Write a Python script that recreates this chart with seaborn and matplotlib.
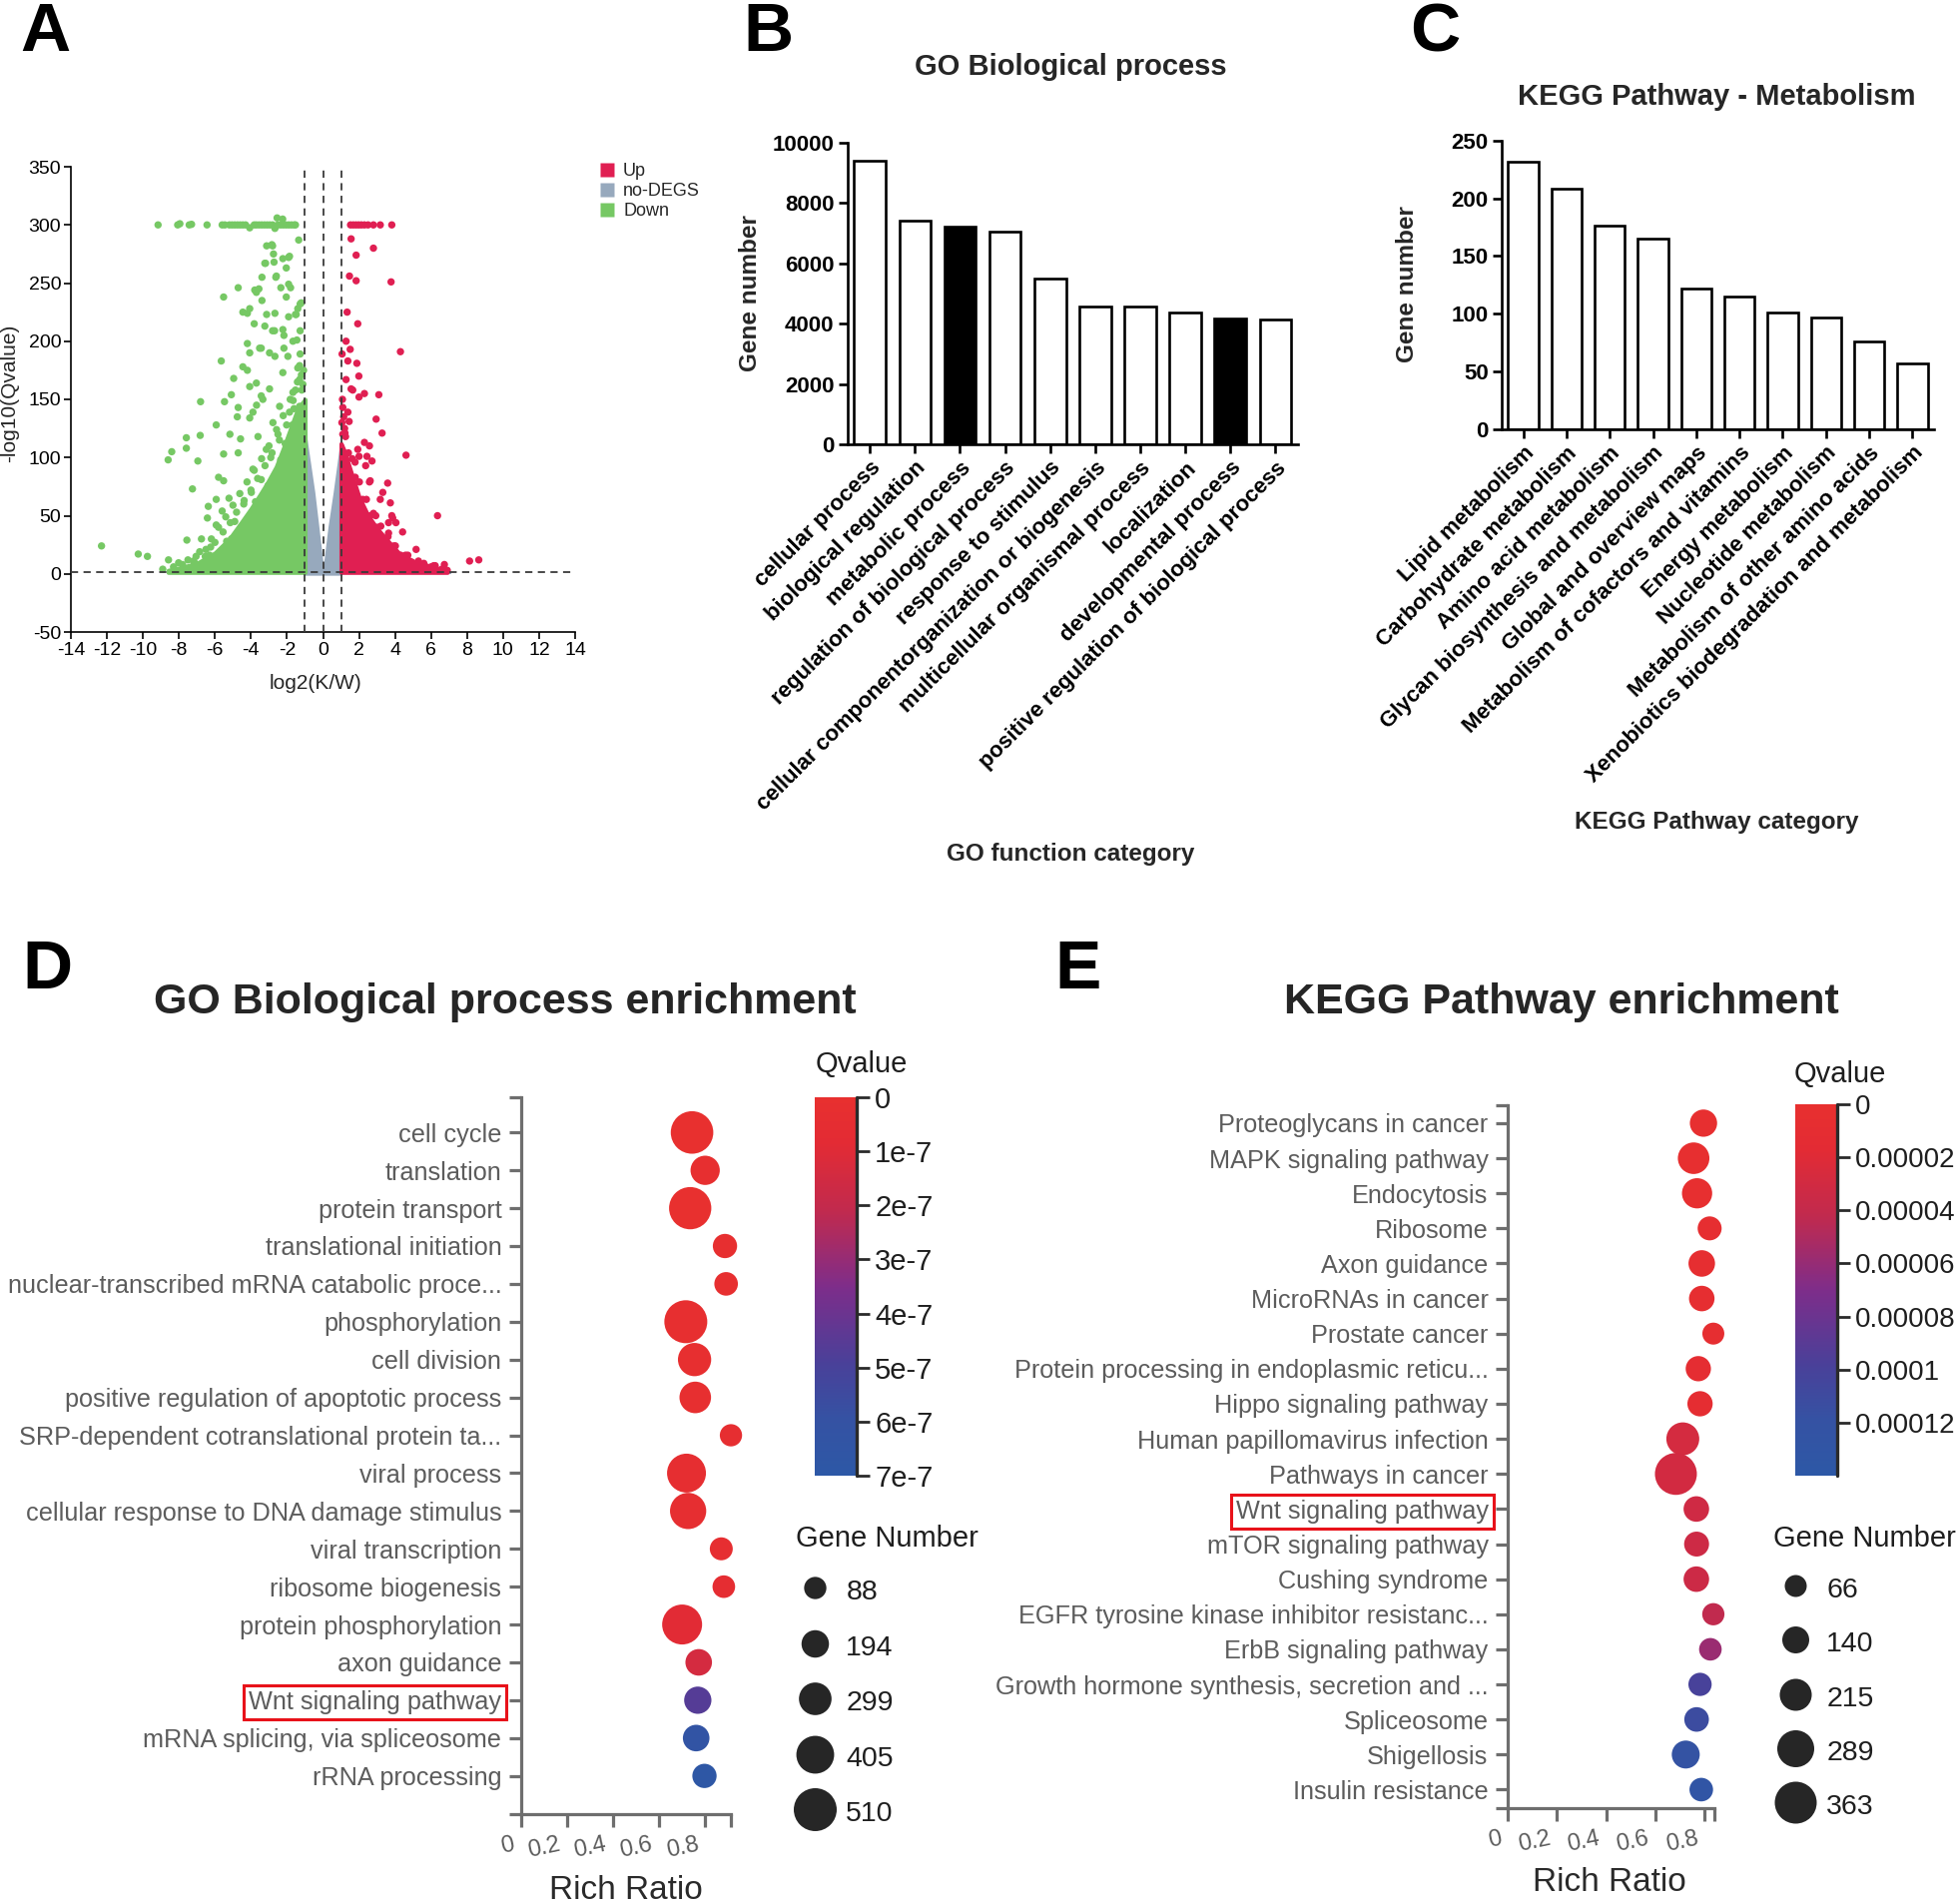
import numpy as np
import pandas as pd
import matplotlib
matplotlib.use("Agg")
import matplotlib.pyplot as plt
import seaborn as sns
from matplotlib.colors import LinearSegmentedColormap, Normalize
from matplotlib.cm import ScalarMappable
from matplotlib.lines import Line2D
import matplotlib.transforms as mtransforms

# ======================= DATA =======================
# ---- Panel A: volcano ----
fc_cut = 1.0
q_cut = 0.05
volcano_groups = ["Up", "no-DEGS", "Down"]
volcano_colors = ["#e01f52", "#97a9bd", "#76c864"]

down_points = [
    (-9.16, 300), (-8.07, 300), (-7.95, 301), (-7.43, 300), (-7.30, 300.5), (-6.44, 300),
    (-5.60, 300), (-5.45, 300), (-5.20, 300), (-5.05, 300), (-4.90, 300), (-4.75, 300),
    (-4.60, 300), (-4.45, 300), (-4.30, 300), (-4.07, 297.5), (-3.82, 300), (-3.70, 300),
    (-3.55, 300), (-3.40, 300), (-3.25, 300), (-3.10, 300), (-2.95, 300), (-2.80, 300),
    (-2.67, 297), (-2.55, 306), (-2.50, 300), (-2.35, 300), (-2.24, 305), (-2.20, 300),
    (-2.05, 300), (-1.90, 300), (-1.75, 300), (-1.60, 300), (-1.53, 300),
    (-1.35, 287), (-3.13, 282), (-2.80, 282), (-2.75, 275), (-2.72, 268), (-3.23, 267),
    (-1.91, 272), (-2.62, 255), (-3.39, 255), (-2.04, 263), (-5.52, 238), (-4.71, 246),
    (-3.79, 244), (-3.56, 245), (-1.91, 249), (-2.34, 246), (-2.04, 238), (-4.07, 228),
    (-4.20, 224), (-4.45, 225), (-3.39, 235), (-2.67, 224), (-3.13, 223), (-1.27, 232),
    (-1.91, 221), (-1.53, 223), (-3.82, 215), (-3.23, 213), (-2.80, 209), (-2.17, 205),
    (-4.20, 198), (-4.07, 190), (-3.43, 194), (-2.67, 187), (-2.17, 194), (-5.65, 183),
    (-4.45, 178), (-4.20, 175), (-4.96, 168), (-4.07, 161), (-5.09, 154), (-6.80, 148),
    (-5.47, 148), (-4.71, 143), (-3.69, 145), (-3.43, 153), (-4.76, 135), (-4.07, 134),
    (-5.93, 128), (-5.17, 120), (-7.59, 117), (-6.82, 119), (-4.58, 116), (-8.40, 105),
    (-7.59, 108), (-8.60, 98), (-6.95, 97), (-5.52, 103), (-4.71, 104), (-5.80, 83),
    (-7.25, 73), (-5.52, 80), (-6.37, 58), (-5.22, 65), (-5.93, 64), (-5.60, 54),
    (-6.42, 48), (-6.75, 30), (-7.56, 29), (-5.93, 42), (-12.30, 24), (-10.26, 17),
    (-9.75, 15), (-8.58, 12), (-8.02, 9.5), (-7.05, 15), (-6.24, 23), (-6.54, 15),
    (-5.09, 30), (-2.84, 283), (-2.23, 271), (-1.86, 273), (-3.19, 267), (-2.59, 256),
    (-1.80, 246), (-3.70, 242), (-1.21, 233), (-1.49, 223), (-2.23, 210), (-2.69, 209),
    (-1.67, 200), (-3.52, 194), (-1.95, 187), (-2.97, 190), (-1.30, 179), (-2.23, 173),
    (-3.70, 164), (-1.30, 167), (-2.97, 159), (-1.67, 156), (-3.34, 150), (-2.41, 144),
    (-1.30, 144), (-3.89, 139), (-2.78, 130), (-1.86, 139), (-3.61, 118), (-3.15, 107),
    (-3.89, 90), (-3.43, 81), (-3.98, 70), (-3.24, 58), (-1.40, 228), (-1.27, 209),
    (-1.45, 201), (-1.27, 189), (-1.40, 177), (-1.20, 171), (-1.53, 158), (-1.66, 149),
    (-2.50, 120), (-2.10, 112), (-2.90, 100), (-4.40, 60), (-4.90, 45), (-7.80, 8),
    # ragged edge of the dense cloud
    (-7.50, 12), (-7.20, 11), (-6.85, 19), (-6.50, 21), (-6.20, 30), (-6.00, 27),
    (-5.80, 40), (-5.55, 36), (-5.40, 49), (-5.15, 44), (-5.00, 59), (-4.80, 53),
    (-4.62, 69), (-4.38, 63), (-4.22, 79), (-4.00, 72), (-3.82, 89), (-3.63, 82),
    (-3.41, 99), (-3.22, 93), (-3.00, 110), (-2.83, 104), (-2.58, 124), (-2.42, 115),
    (-2.21, 136), (-2.02, 128), (-1.82, 150), (-1.61, 142), (-1.42, 165), (-1.18, 158),
    (-1.08, 175), (-1.12, 163), (-1.70, 128), (-2.35, 98), (-3.05, 76), (-3.75, 62),
    (-4.55, 40), (-5.35, 28), (-6.30, 16), (-7.10, 9), (-8.30, 6), (-8.90, 4),
]
up_points = [
    (1.53, 300), (1.68, 300), (1.83, 300), (1.98, 300), (2.13, 300), (2.30, 300),
    (2.50, 300), (2.80, 300), (3.18, 300), (3.82, 300),
    (1.56, 288), (2.80, 280), (1.84, 274), (1.47, 256), (1.84, 252), (3.78, 251),
    (1.34, 225), (1.93, 215), (1.28, 200), (1.51, 193), (4.30, 191), (1.06, 189),
    (1.38, 183), (1.88, 181), (1.28, 167), (1.99, 170), (1.56, 159), (2.30, 155),
    (3.10, 154), (2.00, 152), (1.10, 143), (1.38, 139), (2.95, 133), (3.28, 121),
    (2.30, 113), (2.58, 110), (4.61, 102), (1.93, 107), (2.00, 101), (2.44, 101),
    (2.72, 97), (3.59, 78), (2.58, 79), (3.32, 70), (3.87, 48), (4.05, 44),
    (4.42, 36), (5.17, 21), (4.71, 16), (3.18, 64), (3.74, 61), (3.82, 50),
    (2.93, 50), (6.36, 50), (3.64, 44), (3.64, 35), (3.94, 24), (6.23, 7),
    (6.74, 8), (8.14, 11), (8.65, 12), (3.38, 22), (2.42, 24), (1.05, 130),
    (1.10, 120), (1.15, 135), (1.20, 125), (1.08, 150), (1.25, 118), (1.45, 131),
    (1.65, 158), (1.78, 96), (2.37, 93), (2.62, 80), (5.60, 9), (6.00, 6),
    # ragged edge of the dense cloud
    (1.22, 121), (1.41, 104), (1.62, 99), (1.79, 83), (2.02, 79), (2.21, 64),
    (2.41, 64), (2.63, 50), (2.80, 52), (3.02, 40), (3.21, 41), (3.43, 30),
    (3.61, 32), (3.82, 23), (4.02, 24), (4.31, 16), (4.58, 16), (4.92, 10),
    (5.30, 11), (5.72, 6), (6.15, 7), (6.60, 4), (6.90, 3), (1.12, 104), (1.70, 75),
    (2.50, 44), (3.30, 27), (4.40, 12),
]
# dense cores of each group (upper envelope)
down_env_x = [-8.6, -8.0, -7.0, -6.0, -5.2, -4.5, -4.0, -3.5, -3.1, -2.6, -2.2, -1.8, -1.4, -1.0]
down_env_top = [3, 5, 9, 18, 30, 45, 56, 68, 78, 92, 108, 125, 142, 150]
up_env_x = [1.0, 1.2, 1.5, 2.0, 2.5, 3.0, 3.5, 4.2, 5.0, 6.0, 6.9]
up_env_top = [112, 105, 90, 66, 50, 39, 30, 18, 11, 6, 3]
nodeg_env_x = [-1.0, -0.53, -0.31, -0.10, 0.0, 0.14, 0.36, 0.64, 1.0]
nodeg_env_top = [120, 70, 41, 13, 1.5, 13, 41, 70, 111]
nodeg_band_x = [-6.6, 7.1]

# ---- Panel B: GO biological process ----
go_cats = ["cellular process", "biological regulation", "metabolic process",
           "regulation of biological process", "response to stimulus",
           "cellular componentorganization or biogenesis", "multicellular organismal process",
           "localization", "developmental process", "positive regulation of biological process"]
go_counts = [9400, 7430, 7235, 7040, 5500, 4570, 4570, 4360, 4165, 4130]
go_highlight = [False, False, True, False, False, False, False, False, True, False]

# ---- Panel C: KEGG metabolism ----
kegg_cats = ["Lipid metabolism", "Carbohydrate metabolism", "Amino acid metabolism",
             "Glycan biosynthesis and metabolism", "Global and overview maps",
             "Metabolism of cofactors and vitamins", "Energy metabolism",
             "Nucleotide metabolism", "Metabolism of other amino acids",
             "Xenobiotics biodegradation and metabolism"]
kegg_counts = [232, 208, 176, 165, 122, 115, 101, 97, 76, 57]

# ---- Panel D: GO enrichment ----
goe_terms = ["cell cycle", "translation", "protein transport", "translational initiation",
             "nuclear-transcribed mRNA catabolic proce...", "phosphorylation", "cell division",
             "positive regulation of apoptotic process", "SRP-dependent cotranslational protein ta...",
             "viral process", "cellular response to DNA damage stimulus", "viral transcription",
             "ribosome biogenesis", "protein phosphorylation", "axon guidance",
             "Wnt signaling pathway", "mRNA splicing, via spliceosome", "rRNA processing"]
goe_ratio = [0.743, 0.800, 0.735, 0.886, 0.891, 0.716, 0.754, 0.757, 0.912, 0.719,
             0.726, 0.870, 0.881, 0.700, 0.772, 0.768, 0.761, 0.797]
goe_genes = [502, 231, 496, 129, 115, 510, 312, 278, 88, 428,
             373, 102, 95, 449, 176, 190, 176, 129]
goe_q = [0.10e-7, 0.15e-7, 0.10e-7, 0.20e-7, 0.20e-7, 0.15e-7, 0.20e-7, 0.25e-7, 0.30e-7,
         0.30e-7, 0.35e-7, 0.40e-7, 0.45e-7, 0.90e-7, 1.40e-7, 4.60e-7, 6.30e-7, 6.80e-7]
goe_q_ticks = [0, 1e-7, 2e-7, 3e-7, 4e-7, 5e-7, 6e-7, 7e-7]
goe_q_ticklabels = ["0", "1e-7", "2e-7", "3e-7", "4e-7", "5e-7", "6e-7", "7e-7"]
goe_size_legend = [88, 194, 299, 405, 510]

# ---- Panel E: KEGG enrichment ----
ke_terms = ["Proteoglycans in cancer", "MAPK signaling pathway", "Endocytosis", "Ribosome",
            "Axon guidance", "MicroRNAs in cancer", "Prostate cancer",
            "Protein processing in endoplasmic reticu...", "Hippo signaling pathway",
            "Human papillomavirus infection", "Pathways in cancer", "Wnt signaling pathway",
            "mTOR signaling pathway", "Cushing syndrome",
            "EGFR tyrosine kinase inhibitor resistanc...", "ErbB signaling pathway",
            "Growth hormone synthesis, secretion and ...", "Spliceosome", "Shigellosis",
            "Insulin resistance"]
ke_ratio = [0.795, 0.755, 0.769, 0.820, 0.788, 0.788, 0.835, 0.774, 0.781, 0.711,
            0.683, 0.766, 0.767, 0.766, 0.835, 0.823, 0.781, 0.767, 0.723, 0.786]
ke_genes = [145, 209, 189, 96, 134, 119, 66, 115, 115, 229,
            363, 119, 110, 119, 70, 75, 85, 105, 155, 90]
ke_q = [3e-6, 5e-6, 5e-6, 6e-6, 6e-6, 7e-6, 8e-6, 1.0e-5, 1.1e-5, 2.8e-5,
        3.0e-5, 3.2e-5, 3.3e-5, 3.4e-5, 4.2e-5, 5.8e-5, 1.0e-4, 1.12e-4, 1.22e-4, 1.30e-4]
ke_q_ticks = [0, 2e-5, 4e-5, 6e-5, 8e-5, 1e-4, 1.2e-4]
ke_q_ticklabels = ["0", "0.00002", "0.00004", "0.00006", "0.00008", "0.0001", "0.00012"]
ke_size_legend = [66, 140, 215, 289, 363]
highlight_term = "Wnt signaling pathway"

# ======================= STYLE / LAYOUT =======================
sns.set_theme(style="white")
plt.rcParams["font.family"] = ["Liberation Sans", "DejaVu Sans"]
plt.rcParams["axes.unicode_minus"] = False

W, H, DPI = 1960, 1907, 100
fig = plt.figure(figsize=(W / DPI, H / DPI), dpi=DPI)
fig.patch.set_facecolor("white")


def fx(x):
    return x / W


def fy(y):
    return 1 - y / H


def ax_px(left, top, right, bottom):
    return fig.add_axes([left / W, 1 - bottom / H, (right - left) / W, (bottom - top) / H])


def ftext(x, y, s, **kw):
    return fig.text(fx(x), fy(y), s, **kw)


# panel letters
for letter, (lx, ly) in zip("ABCDE", [(20, 51), (744, 51), (1412, 51), (22, 990), (1056, 990)]):
    ftext(lx, ly, letter, fontsize=50, fontweight="bold", ha="left", va="baseline", color="black")

# ======================= PANEL A =======================
axA = ax_px(71, 167, 576, 633)
c_up, c_no, c_down = volcano_colors
axA.fill_between(nodeg_band_x, -0.3, 1.6, color=c_no, lw=0, zorder=1)
axA.fill_between(nodeg_env_x, 0, nodeg_env_top, color=c_no, lw=2, edgecolor=c_no, zorder=1)
axA.fill_between(down_env_x, -np.log10(q_cut), down_env_top, color=c_down, lw=3, edgecolor=c_down, zorder=2)
axA.fill_between(up_env_x, -np.log10(q_cut), up_env_top, color=c_up, lw=3, edgecolor=c_up, zorder=2)

dv = pd.DataFrame(down_points, columns=["lfc", "mlq"]).assign(group="Down")
uv = pd.DataFrame(up_points, columns=["lfc", "mlq"]).assign(group="Up")
dfv = pd.concat([dv, uv], ignore_index=True)
sns.scatterplot(data=dfv, x="lfc", y="mlq", hue="group", palette={"Up": c_up, "Down": c_down},
                s=28, linewidth=0, legend=False, ax=axA, zorder=3)
for v in (-fc_cut, 0, fc_cut):
    axA.axvline(v, color="#3a3a3a", lw=1.3, ls=(0, (4, 3)), zorder=4)
axA.axhline(-np.log10(q_cut), color="#3a3a3a", lw=1.3, ls=(0, (4, 3)), zorder=4)
axA.set_xlim(-14, 14)
axA.set_ylim(-50, 350)
axA.set_xticks(np.arange(-14, 15, 2))
axA.set_yticks(np.arange(-50, 351, 50))
axA.set_xlabel("")
axA.set_ylabel("")
sns.despine(ax=axA)
for s in ("left", "bottom"):
    axA.spines[s].set_color("black")
    axA.spines[s].set_linewidth(1.2)
axA.tick_params(axis="both", direction="out", length=5, width=1.2, color="black",
                labelsize=14, labelcolor="black", pad=2, left=True, bottom=True)
ftext(316, 684, "log2(K/W)", fontsize=15, ha="center", va="center")
ftext(10, 394, "-log10(Qvalue)", fontsize=15, ha="center", va="center", rotation=90)
vh = [Line2D([], [], ls="", marker="s", markersize=9.4, markerfacecolor=c, markeredgecolor="none")
      for c in volcano_colors]
axA.legend(vh, volcano_groups, loc="upper left", bbox_to_anchor=(fx(600.8), fy(163)),
           bbox_transform=fig.transFigure, frameon=False, fontsize=13, handlelength=0.8,
           handletextpad=0.49, labelspacing=0.18, borderpad=0, borderaxespad=0)

# ======================= PANELS B, C =======================
def bar_panel(box, cats, counts, fills, ymax, ystep, title, title_xy, xlabel, xlabel_xy, ylabel_xy):
    ax = ax_px(*box)
    sns.barplot(x=cats, y=counts, hue=cats, palette=fills, legend=False, edgecolor="black",
                linewidth=1.9, width=0.7, saturation=1, ax=ax)
    ax.set_xlim(-0.5, len(cats) - 0.5)
    ax.set_ylim(0, ymax)
    ax.set_yticks(np.arange(0, ymax + 1, ystep))
    ax.set_xlabel("")
    ax.set_ylabel("")
    sns.despine(ax=ax)
    for s in ("left", "bottom"):
        ax.spines[s].set_color("black")
        ax.spines[s].set_linewidth(1.9)
    ax.tick_params(axis="both", direction="out", length=6.5, width=1.9, color="black",
                   labelsize=16, labelcolor="black", left=True, bottom=True, pad=3)
    ax.set_xticks(range(len(cats)))
    ax.set_xticklabels(cats, rotation=45, ha="right", rotation_mode="anchor", fontweight="bold")
    for t in ax.get_yticklabels():
        t.set_fontweight("bold")
    ftext(*title_xy, title, fontsize=21, fontweight="bold", ha="center", va="baseline")
    ftext(*xlabel_xy, xlabel, fontsize=17.5, fontweight="bold", ha="center", va="baseline")
    ftext(*ylabel_xy, "Gene number", fontsize=17.5, fontweight="bold", ha="center", va="center",
          rotation=90)
    return ax


go_fill = ["black" if h else "white" for h in go_highlight]
bar_panel((848.6, 143, 1300, 445), go_cats, go_counts, go_fill, 10000, 2000,
          "GO Biological process", (1072, 75), "GO function category", (1072, 862), (751.7, 294))
bar_panel((1504, 140.7, 1937, 430), kegg_cats, kegg_counts, ["white"] * len(kegg_cats), 250, 50,
          "KEGG Pathway - Metabolism", (1719, 105), "KEGG Pathway category", (1719, 830), (1410, 285))

# ======================= PANELS D, E =======================
qcmap = LinearSegmentedColormap.from_list(
    "qv", [(0.0, "#e8302f"), (0.12, "#e32b34"), (0.30, "#c12a4e"), (0.50, "#7e2d8a"),
           (0.70, "#4a4099"), (0.85, "#3552a3"), (1.0, "#2d58a6")])
AX_GREY = "#6e6e6e"
LBL_GREY = "#5c5c5c"


def diam_px(n, nmin, nmax, dmin, dmax):
    return dmin + (np.asarray(n, dtype=float) - nmin) / (nmax - nmin) * (dmax - dmin)


def enrich_panel(box, terms, ratio, genes, q, xmax, ylim, qmax, qticks, qticklabels, cb_fs,
                 size_legend, drange, cbox, title, title_xy, qtitle_xy, gtitle_xy,
                 leg_xy, leg_spacing, rich_xy):
    ax = ax_px(*box)
    df = pd.DataFrame({"term": terms, "ratio": ratio, "genes": genes, "q": q})
    df["pos"] = np.arange(len(df))
    nmin, nmax = min(size_legend), max(size_legend)
    df["area"] = (diam_px(df["genes"], nmin, nmax, *drange) * 72 / DPI) ** 2
    norm = Normalize(0, qmax)
    sns.scatterplot(data=df, x="ratio", y="pos", hue="q", palette=qcmap, hue_norm=norm,
                    s=df["area"].values, linewidth=0, legend=False, ax=ax, zorder=3,
                    clip_on=False)
    ax.set_xlim(0, xmax)
    ax.set_ylim(*ylim)
    ax.set_xlabel("")
    ax.set_ylabel("")
    ax.set_yticks(df["pos"])
    ax.set_yticklabels(df["term"])
    ax.set_yticks(list(ylim), minor=True)
    ax.set_xticks([0, 0.2, 0.4, 0.6, 0.8])
    ax.set_xticklabels(["0", "0.2", "0.4", "0.6", "0.8"])
    ax.set_xticks([xmax], minor=True)
    sns.despine(ax=ax)
    for s in ("left", "bottom"):
        ax.spines[s].set_color(AX_GREY)
        ax.spines[s].set_linewidth(2.3)
    ax.tick_params(axis="both", which="both", direction="out", length=9, width=2.3,
                   color=AX_GREY, left=True, bottom=True)
    ax.tick_params(axis="y", which="major", labelsize=18.2, labelcolor=LBL_GREY, pad=5)
    ax.tick_params(axis="x", which="major", labelsize=17, labelcolor=LBL_GREY, pad=5)
    off = mtransforms.ScaledTranslation(-9 / DPI, 0, fig.dpi_scale_trans)
    for t in ax.get_xticklabels():
        t.set_rotation(12)
        t.set_ha("right")
        t.set_va("top")
        t.set_rotation_mode("anchor")
        t.set_transform(t.get_transform() + off)
    hl = list(terms).index(highlight_term)
    ax.get_yticklabels()[hl].set_bbox(dict(boxstyle="square,pad=0.2", facecolor="none",
                                           edgecolor="#e8121a", linewidth=2.2))
    # colorbar
    cax = ax_px(*cbox)
    cb = fig.colorbar(ScalarMappable(norm=norm, cmap=qcmap), cax=cax)
    cb.ax.invert_yaxis()
    cb.outline.set_visible(False)
    cb.set_ticks(qticks)
    cb.set_ticklabels(qticklabels)
    cb.ax.tick_params(length=9, width=2, color="#2a2a2a", labelsize=cb_fs, labelcolor="#1e1e1e", pad=4)
    cb.ax.axvline(1.0, color="#2a2a2a", lw=2.4, clip_on=False)
    # titles
    ftext(*title_xy, title, fontsize=31, fontweight="bold", ha="center", va="baseline")
    ftext(*qtitle_xy, "Qvalue", fontsize=21, ha="center", va="center", color="#1e1e1e")
    ftext(*gtitle_xy, "Gene Number", fontsize=21, ha="center", va="center", color="#1e1e1e")
    ftext(*rich_xy, "Rich Ratio", fontsize=24, ha="center", va="center", color="#2a2a2a")
    # size legend
    ds = diam_px(size_legend, nmin, nmax, *drange)
    hs = [Line2D([], [], ls="", marker="o", markersize=d * 72 / DPI, markerfacecolor="#262626",
                 markeredgecolor="none") for d in ds]
    fs_px = 20.5 * DPI / 72
    leg = ax.legend(hs, [str(v) for v in size_legend], loc="upper left",
                    bbox_to_anchor=(fx(leg_xy[0] - 0.5 * fs_px), fy(leg_xy[1] - 0.6 * fs_px)),
                    bbox_transform=fig.transFigure, frameon=False, fontsize=20.5,
                    handlelength=1.0, handleheight=1.2, handletextpad=0.6,
                    labelspacing=(leg_spacing - 1.2 * fs_px) / fs_px + 0.14,
                    borderpad=0, borderaxespad=0)
    for t in leg.get_texts():
        t.set_color("#1e1e1e")
    return ax


enrich_panel((521.7, 1099, 732.3, 1817), goe_terms, goe_ratio, goe_genes, goe_q,
             0.913, (18.01, -0.93), 7e-7, goe_q_ticks, goe_q_ticklabels, 21, goe_size_legend,
             (22.3, 43.0), (816, 1099, 858, 1478), "GO Biological process enrichment",
             (506, 1015), (863, 1066), (888, 1541), (816, 1595), 55.5, (626.7, 1893))
enrich_panel((1510, 1107, 1716.7, 1810.7), ke_terms, ke_ratio, ke_genes, ke_q,
             0.838, (19.52, -0.51), 1.4e-4, ke_q_ticks, ke_q_ticklabels, 20, ke_size_legend,
             (22.0, 42.0), (1798, 1106, 1840, 1478), "KEGG Pathway enrichment",
             (1564, 1015), (1843, 1076), (1867, 1541), (1798, 1593), 54.25, (1611.7, 1885))

fig.savefig("out.png", dpi=DPI, facecolor="white")
